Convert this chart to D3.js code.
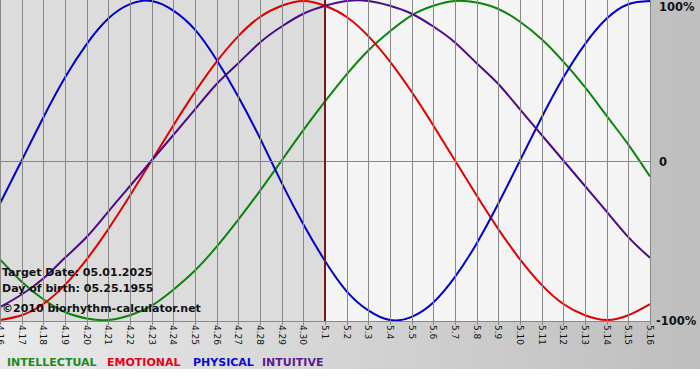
<!DOCTYPE html>
<html>
<head>
<meta charset="utf-8">
<script src="https://cdn.jsdelivr.net/npm/d3@7"></script>
<style>
    body { margin: 0; padding: 0; background: #fff; }
    svg { display: block; font-family: "DejaVu Sans", Verdana, sans-serif; }
    .grid line { stroke: #888888; stroke-width: 1; shape-rendering: crispEdges; }
    .bio-line { fill: none; stroke-width: 2; }
    .tick-label { font-size: 9px; fill: #111; }
    .info-text { font-size: 11px; font-weight: bold; fill: #111; }
    .pct-label { font-size: 11.5px; font-weight: bold; fill: #111; }
    .legend-text { font-size: 11px; font-weight: bold; }
</style>
</head>
<body>
<div id="bio-chart"></div>
<script>

// days shown on the x axis (4.16 .. 5.16)
var dayLabels = ["4.16", "4.17", "4.18", "4.19", "4.20", "4.21", "4.22", "4.23", "4.24", "4.25",
    "4.26", "4.27", "4.28", "4.29", "4.30", "5.1", "5.2", "5.3", "5.4", "5.5", "5.6", "5.7",
    "5.8", "5.9", "5.10", "5.11", "5.12", "5.13", "5.14", "5.15", "5.16"];

// values in percent, one per day
var intellectual = [-62, -76, -87, -95, -99, -100, -97, -91, -81, -69, -54, -37, -19, 0, 19, 37,
    54, 69, 81, 91, 97, 100, 99, 95, 87, 76, 62, 46, 28, 10, -10];
var emotional = [-100, -97, -90, -78, -62, -43, -22, 0, 22, 43, 62, 78, 90, 97, 100, 97,
    90, 78, 62, 43, 22, 0, -22, -43, -62, -78, -90, -97, -100, -97, -90];
var physical = [-27, 0, 27, 52, 73, 89, 98, 100, 94, 82, 63, 40, 14, -14, -40, -63,
    -82, -94, -100, -98, -89, -73, -52, -27, 0, 27, 52, 73, 89, 98, 100];
var intuitive = [-92, -84, -74, -61, -48, -32, -16, 0, 16, 32, 48, 61, 74, 84, 92, 97,
    100, 100, 97, 92, 84, 74, 61, 48, 32, 16, 0, -16, -32, -48, -61];

var targetDay = "5.1";
var infoLines = ["Target Date: 05.01.2025", "Day of birth: 05.25.1955", "\u00a92010 biorhythm-calculator.net"];
var pctLabels = [{v: 100, t: "100%"}, {v: 0, t: "0"}, {v: -100, t: "-100%"}];

var series = [
    {name: "INTELLECTUAL", values: intellectual, color: "#0a850a", legendColor: "#1c8a22", lx: 7},
    {name: "EMOTIONAL", values: emotional, color: "#e00000", legendColor: "#e8001c", lx: 107},
    {name: "PHYSICAL", values: physical, color: "#0000c8", legendColor: "#0a0ad0", lx: 193},
    {name: "INTUITIVE", values: intuitive, color: "#4a0a8a", legendColor: "#5c1a8e", lx: 262}
];

var svgWidth = 700, svgHeight = 380;
var plotWidth = 651, plotHeight = 321;

var svg = d3.select("#bio-chart")
    .append("svg")
    .attr("width", svgWidth)
    .attr("height", svgHeight);

// frame gradient (light on the left, darker on the right)
var defs = svg.append("defs");
var grad = defs.append("linearGradient")
    .attr("id", "frame-grad")
    .attr("x1", "0%").attr("x2", "100%").attr("y1", "0%").attr("y2", "0%");
grad.append("stop").attr("offset", "0%").attr("stop-color", "#e9e9e9");
grad.append("stop").attr("offset", "100%").attr("stop-color", "#bebebe");

defs.append("clipPath")
    .attr("id", "plot-clip")
    .append("rect")
    .attr("width", plotWidth)
    .attr("height", plotHeight);

svg.append("rect")
    .attr("width", svgWidth)
    .attr("height", 369)
    .attr("fill", "url(#frame-grad)");

// scales
var x = d3.scalePoint()
    .domain(dayLabels)
    .range([0, 650]);

var y = d3.scaleLinear()
    .domain([-100, 100])
    .range([320, 1]);

// plot background: past days darker, future days lighter
var g = svg.append("g").attr("clip-path", "url(#plot-clip)");

g.append("rect")
    .attr("width", x(targetDay))
    .attr("height", plotHeight)
    .attr("fill", "#dcdcdc");

g.append("rect")
    .attr("x", x(targetDay))
    .attr("width", plotWidth - x(targetDay))
    .attr("height", plotHeight)
    .attr("fill", "#f4f4f4");

// vertical gridlines, one per day
svg.append("g")
    .attr("class", "grid")
    .attr("transform", "translate(0," + plotHeight + ")")
    .call(d3.axisBottom(x)
        .tickSize(-plotHeight - 4)
        .tickSizeOuter(0)
        .tickFormat("")
    )
    .call(function (a) { a.select(".domain").remove(); })
    .selectAll("line")
    .attr("y1", 4);

// zero line
svg.append("g")
    .attr("class", "grid")
    .call(d3.axisLeft(y)
        .tickValues([0])
        .tickSize(-plotWidth)
        .tickFormat("")
    )
    .call(function (a) { a.select(".domain").remove(); });

// bottom axis line
svg.append("line")
    .attr("x1", 0).attr("x2", plotWidth)
    .attr("y1", plotHeight + 0.5).attr("y2", plotHeight + 0.5)
    .attr("stroke", "#888888");

// day labels, rotated
svg.append("g")
    .selectAll("text")
    .data(dayLabels)
    .enter()
    .append("text")
    .attr("class", "tick-label")
    .attr("transform", function (d) {
        return "translate(" + (x(d) - 3) + "," + (plotHeight + 4) + ") rotate(90)";
    })
    .text(function (d) { return d; });

// target date line
svg.append("line")
    .attr("x1", x(targetDay)).attr("x2", x(targetDay))
    .attr("y1", 0).attr("y2", plotHeight)
    .attr("stroke", "#7a1818")
    .attr("stroke-width", 2);

// curves
var line = d3.line()
    .x(function (d, i) { return x(dayLabels[i]); })
    .y(function (d) { return y(d); })
    .curve(d3.curveNatural);

g.selectAll(".bio-line")
    .data(series)
    .enter()
    .append("path")
    .attr("class", "bio-line")
    .attr("stroke", function (d) { return d.color; })
    .attr("d", function (d) { return line(d.values); });

// info text
svg.append("g")
    .selectAll("text")
    .data(infoLines)
    .enter()
    .append("text")
    .attr("class", "info-text")
    .attr("x", 2)
    .attr("y", function (d, i) { return [276, 292, 312][i]; })
    .text(function (d) { return d; });

// percent labels on the right
svg.append("g")
    .selectAll("text")
    .data(pctLabels)
    .enter()
    .append("text")
    .attr("class", "pct-label")
    .attr("x", function (d) { return d.v < 0 ? 656 : 659; })
    .attr("y", function (d) { return y(d.v) + (d.v > 0 ? 10 : 5); })
    .text(function (d) { return d.t; });

// legend
svg.append("g")
    .selectAll("text")
    .data(series)
    .enter()
    .append("text")
    .attr("class", "legend-text")
    .attr("x", function (d) { return d.lx; })
    .attr("y", 366)
    .attr("fill", function (d) { return d.legendColor; })
    .text(function (d) { return d.name; });

</script>
</body>
</html>
